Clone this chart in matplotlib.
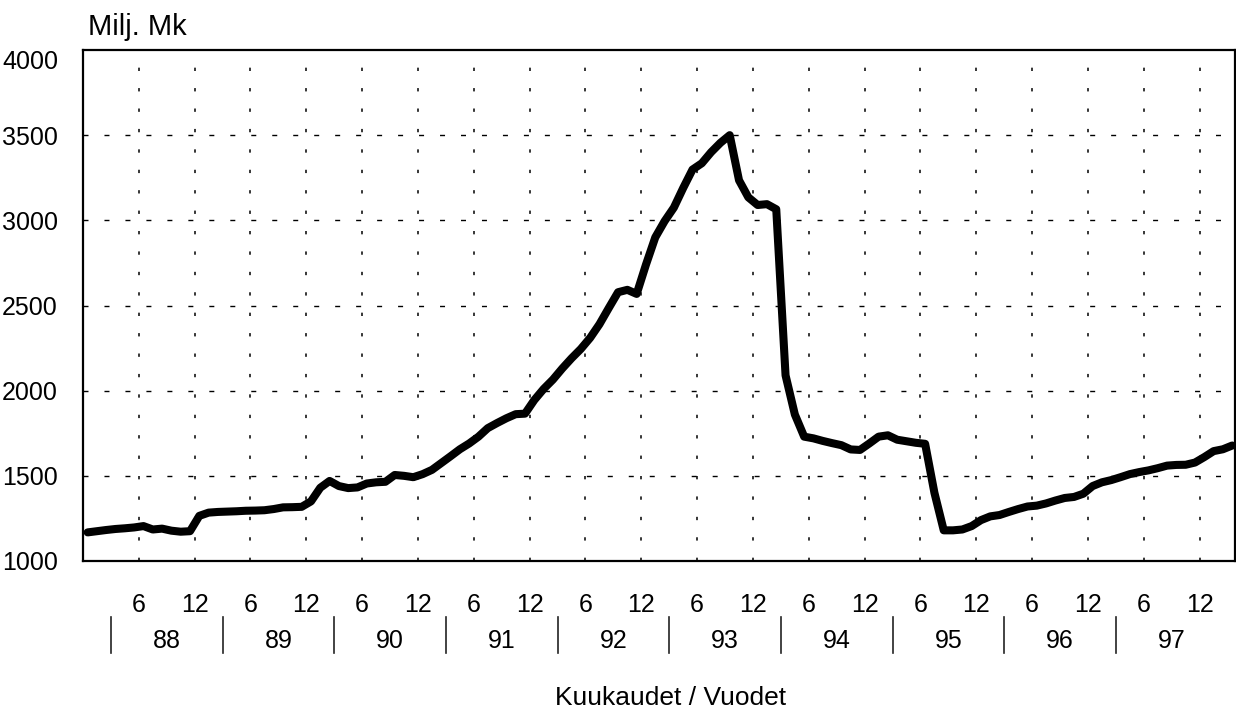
import matplotlib
matplotlib.use("Agg")
import matplotlib.pyplot as plt
import numpy as np
from matplotlib.transforms import blended_transform_factory

plt.rcParams['lines.scale_dashes'] = False

# ---- data: monthly values, Jan 1988 - Apr 1998 (Milj. Mk) ----
v1988 = [1168, 1175, 1182, 1188, 1192, 1197, 1205, 1185, 1190, 1178, 1172, 1175]
v1989 = [1265, 1284, 1288, 1290, 1292, 1295, 1296, 1298, 1305, 1315, 1316, 1318]
v1990 = [1350, 1430, 1470, 1440, 1428, 1432, 1455, 1462, 1465, 1505, 1500, 1492]
v1991 = [1510, 1535, 1575, 1615, 1656, 1690, 1730, 1780, 1810, 1838, 1862, 1865]
v1992 = [1945, 2010, 2065, 2130, 2190, 2245, 2310, 2390, 2485, 2578, 2592, 2568]
v1993 = [2740, 2900, 2995, 3075, 3190, 3298, 3335, 3400, 3455, 3500, 3235, 3135]
v1994 = [3090, 3095, 3065, 2090, 1860, 1730, 1720, 1705, 1692, 1680, 1655, 1652]
v1995 = [1690, 1730, 1738, 1712, 1703, 1694, 1688, 1400, 1180, 1180, 1185, 1205]
v1996 = [1240, 1262, 1270, 1288, 1305, 1320, 1325, 1338, 1355, 1370, 1376, 1395]
v1997 = [1440, 1462, 1475, 1492, 1510, 1522, 1532, 1545, 1560, 1564, 1565, 1578]
v1998 = [1610, 1645, 1656, 1678]

year_labels = ['88', '89', '90', '91', '92', '93', '94', '95', '96', '97']
month_labels = ['6', '12']
y_ticks = [1000, 1500, 2000, 2500, 3000, 3500, 4000]
y_unit = 'Milj. Mk'
x_title = 'Kuukaudet / Vuodet'

values = np.array(v1988 + v1989 + v1990 + v1991 + v1992 + v1993 +
                  v1994 + v1995 + v1996 + v1997 + v1998, dtype=float)
months = np.arange(1, len(values) + 1)

font = ['Liberation Sans', 'DejaVu Sans']

W, H = 1236, 711
fig = plt.figure(figsize=(W / 100, H / 100), dpi=100)
ax = fig.add_axes([83 / W, 1 - 561 / H, (1235 - 83) / W, (561 - 50) / H])

# data line (each month centred in its slot)
ax.plot(months - 0.5, values, color='black', lw=5.8, solid_joinstyle='round',
        solid_capstyle='round', zorder=5, clip_on=False)

ax.set_xlim(0, 123.8)
ax.set_ylim(y_ticks[0], y_ticks[-1])

# grid
for yv in y_ticks[1:-1]:
    ax.axhline(yv, color='black', lw=1.0, linestyle=(0, (3.6, 11.5)), zorder=1)
n_years = len(year_labels)
grid_months = np.arange(6, 12 * n_years + 1, 6)
for xv in grid_months:
    ax.axvline(xv, color='black', lw=1.1, linestyle=(0, (2.4, 12.3)), zorder=1)

for s in ax.spines.values():
    s.set_linewidth(1.6)
    s.set_color('black')

ax.set_xticks([])
ax.set_yticks(y_ticks)
ax.set_yticklabels([str(t) for t in y_ticks], fontsize=18, family=font)
ax.tick_params(axis='y', length=0, pad=18)
ax.get_yticklabels()[-1].set_va('top')

bt = blended_transform_factory(ax.transData, fig.transFigure)

# month labels
for xv in grid_months:
    lab = month_labels[0] if xv % 12 else month_labels[1]
    ax.text(xv, 1 - 611.5 / H, lab, transform=bt, ha='center', va='baseline',
            fontsize=18, family=font)

# year labels and separators
for i, yl in enumerate(year_labels):
    ax.text(9 + 12 * i, 1 - 648.5 / H, yl, transform=bt, ha='center',
            va='baseline', fontsize=18, family=font)
    ax.plot([3 + 12 * i, 3 + 12 * i], [1 - 617 / H, 1 - 653 / H], transform=bt,
            color='#222222', lw=1.2, clip_on=False)

fig.text(88 / W, 1 - 35 / H, y_unit, ha='left', va='baseline', fontsize=21,
         family=font)
fig.text(671 / W, 1 - 705 / H, x_title, ha='center', va='baseline',
         fontsize=19, family=font)

fig.savefig('out.png', dpi=100)
